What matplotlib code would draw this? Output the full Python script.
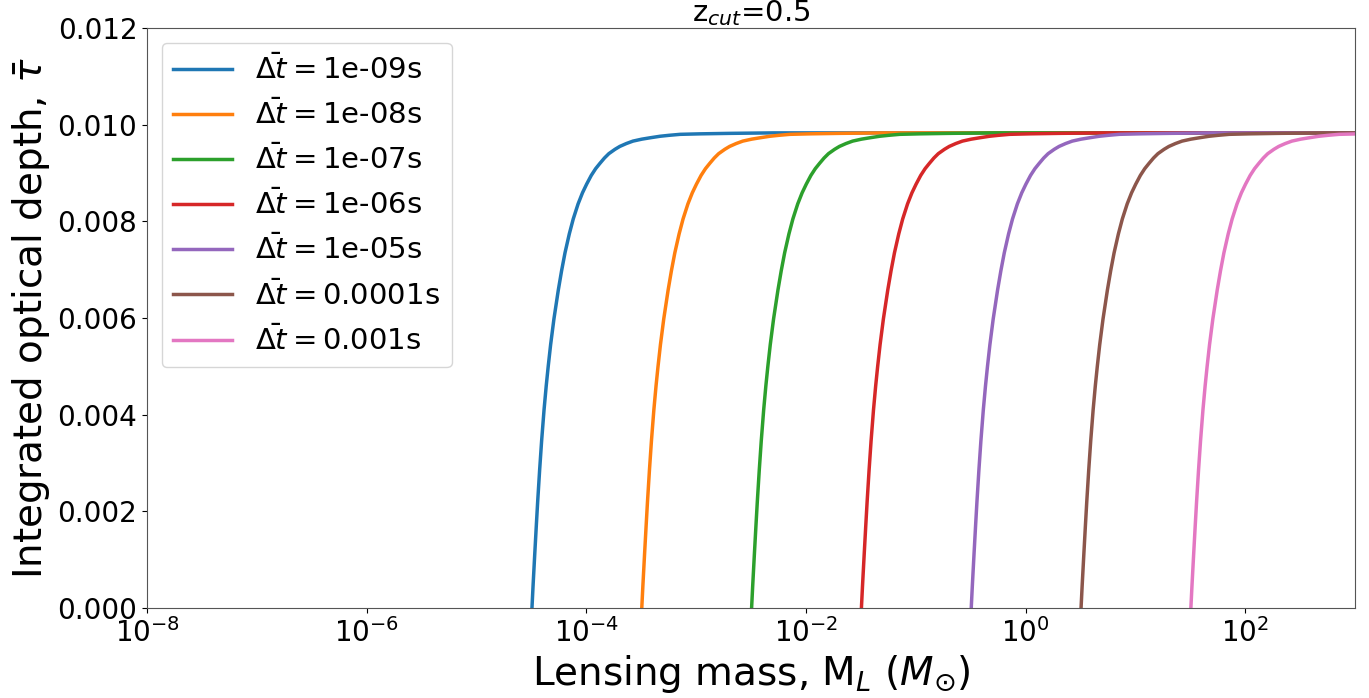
import numpy as np
import matplotlib
matplotlib.use("Agg")
from matplotlib import pyplot as plt

# Time delays (s) and the lensing mass where each curve leaves zero
delays = ["1e-09", "1e-08", "1e-07", "1e-06", "1e-05", "0.0001", "0.001"]
onset_mass = [3.2e-5, 3.2e-4, 3.2e-3, 3.2e-2, 3.2e-1, 3.2, 32.0]

# Curve profile: decades above the onset mass vs optical depth
decades_above = [0.0, 0.01, 0.025, 0.04, 0.052, 0.07, 0.088, 0.11, 0.13, 0.148,
                 0.17, 0.20, 0.24, 0.27, 0.301, 0.34, 0.376, 0.42, 0.46, 0.498,
                 0.54, 0.58, 0.619, 0.66, 0.70, 0.756, 0.80, 0.86, 0.92, 1.0,
                 1.08, 1.166, 1.25, 1.35, 1.53, 1.8, 2.2, 3.0, 12.0]
tau_profile = [0.0, 0.00046, 0.00110, 0.00172, 0.00220, 0.00286, 0.00346,
               0.00410, 0.00460, 0.00500, 0.00545, 0.00598, 0.00658, 0.00698,
               0.00735, 0.00774, 0.00805, 0.00836, 0.00859, 0.00877, 0.00895,
               0.00909, 0.00920, 0.00931, 0.00940, 0.00949, 0.00955, 0.00961,
               0.00966, 0.00970, 0.00973, 0.00976, 0.00978, 0.00980, 0.00981,
               0.00982, 0.00983, 0.00983, 0.00983]

colors = ["#1f77b4", "#ff7f0e", "#2ca02c", "#d62728", "#9467bd", "#8c564b", "#e377c2"]

fig = plt.figure(figsize=(13.69, 6.98), dpi=100)
ax = fig.add_subplot(111)
fig.subplots_adjust(left=0.1074, right=0.9898, top=0.9599, bottom=0.1289)

for d, m0, c in zip(delays, onset_mass, colors):
    mass = m0 * 10 ** np.array(decades_above)
    ax.plot(mass, tau_profile, color=c, lw=2.5, label=r"$\bar{\Delta t} = $" + d + "s")

ax.set_xscale("log")
ax.set_xlim(1e-8, 1e3)
ax.set_ylim(0, 0.012)
ax.set_xticks([1e-8, 1e-6, 1e-4, 1e-2, 1e0, 1e2])
ax.minorticks_off()
ax.tick_params(labelsize=20)
for s in ax.spines.values():
    s.set_color("#555555")

ax.set_xlabel(r"Lensing mass, M$_L$ ($M_{\odot}$)", fontsize=28)
ax.set_ylabel(r"Integrated optical depth, $\bar{\tau}$", fontsize=28)
ax.set_title(r"z$_{cut}$=0.5", fontsize=21, pad=2)
ax.legend(loc="upper left", fontsize=21, labelspacing=0.49)

plt.savefig("out.png")
